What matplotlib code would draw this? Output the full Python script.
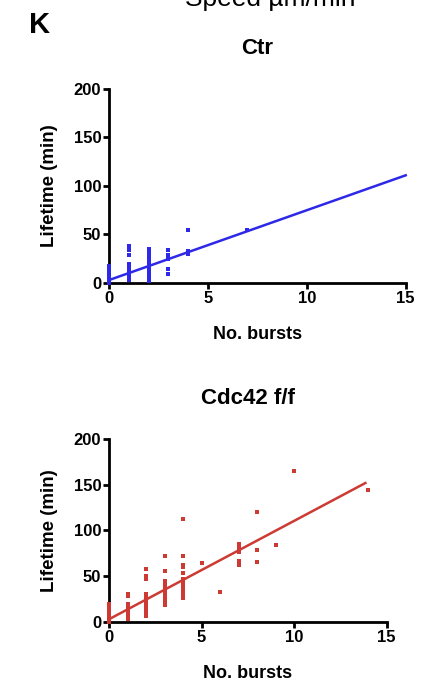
import matplotlib
matplotlib.use("Agg")
import matplotlib.pyplot as plt
import numpy as np

plt.rcParams['font.family'] = ['Liberation Sans', 'DejaVu Sans']

# === Data === #
ctr_x = [0] * 7 + [1] * 9 + [2] * 11 + [3] * 5 + [4] * 3 + [7]
ctr_y = [0, 3, 6, 9, 12, 15, 18,
         3, 7, 10, 13.5, 17, 20, 29, 34, 38,
         2, 5, 8, 12, 15, 18, 22, 25, 28, 32, 35,
         9, 14, 25, 29, 34,
         30, 33, 55,
         55]
ctr_fit = (7.2, 3.0)          # slope, intercept
ctr_fit_range = (0, 15)

cdc_x = ([0] * 11 + [1] * 10 + [2] * 12 + [3] * 11 + [4] * 12
         + [5] + [6] + [7] * 5 + [8] * 3 + [9] + [10] + [14])
cdc_y = [0, 2, 4, 6, 8, 10, 12, 14, 16, 18, 20,
         3, 5, 7, 10, 12, 15, 18, 20, 28, 31,
         7, 10, 13, 16, 19, 22, 25, 28, 31, 47, 50, 58,
         19, 23, 26, 30, 33, 36, 39, 42, 45, 56, 72,
         26, 29, 33, 36, 40, 44, 47, 54, 60, 62, 72, 113,
         64,
         33,
         62, 67, 76, 81, 85,
         66, 79, 120,
         84,
         165,
         144]
cdc_fit = (10.75, 3.0)
cdc_fit_range = (0, 13.85)

x_ticks = [0, 5, 10, 15]
y_ticks = [0, 50, 100, 150, 200]


# === Panel helper === #
def draw_panel(ax, xs, ys, fit, fit_range, color, title, title_pad):
    ax.scatter(xs, ys, marker='s', s=8, color=color, linewidths=0, zorder=3, clip_on=False)
    fx = np.array(fit_range)
    ax.plot(fx, fit[0] * fx + fit[1], color=color, lw=1.8, zorder=4, clip_on=False)
    ax.set_xlim(0, 15)
    ax.set_ylim(0, 200)
    ax.set_xticks(x_ticks)
    ax.set_yticks(y_ticks)
    for side in ['top', 'right']:
        ax.spines[side].set_visible(False)
    for side in ['left', 'bottom']:
        ax.spines[side].set_linewidth(2)
    ax.tick_params(direction='out', length=4, width=2, labelsize=12, pad=1.5)
    for lab in ax.get_xticklabels() + ax.get_yticklabels():
        lab.set_fontweight('bold')
    ax.set_title(title, fontsize=16, fontweight='bold', pad=title_pad)
    ax.set_xlabel("No. bursts", fontsize=13, fontweight='bold', labelpad=15)
    ax.set_ylabel("Lifetime (min)", fontsize=13.5, fontweight='bold', labelpad=11)


fig = plt.figure(figsize=(4.3, 6.86), dpi=100)

ax1 = fig.add_axes([0.2535, 0.5875, 0.690, 0.2828])
draw_panel(ax1, ctr_x, ctr_y, ctr_fit, ctr_fit_range, '#2e28e8', "Ctr", 25)

ax2 = fig.add_axes([0.2535, 0.0933, 0.6458, 0.2668])
draw_panel(ax2, cdc_x, cdc_y, cdc_fit, cdc_fit_range, '#cc3a33', "Cdc42 f/f", 25)

# cut-off heading and panel letter
fig.text(0.628, 1 - 6 / 686, "Speed µm/min", fontsize=19, ha='center', va='baseline')
fig.text(0.091, 1 - 25 / 686, "K", fontsize=21, fontweight='bold', ha='center', va='center')

fig.savefig("out.png", dpi=100)
